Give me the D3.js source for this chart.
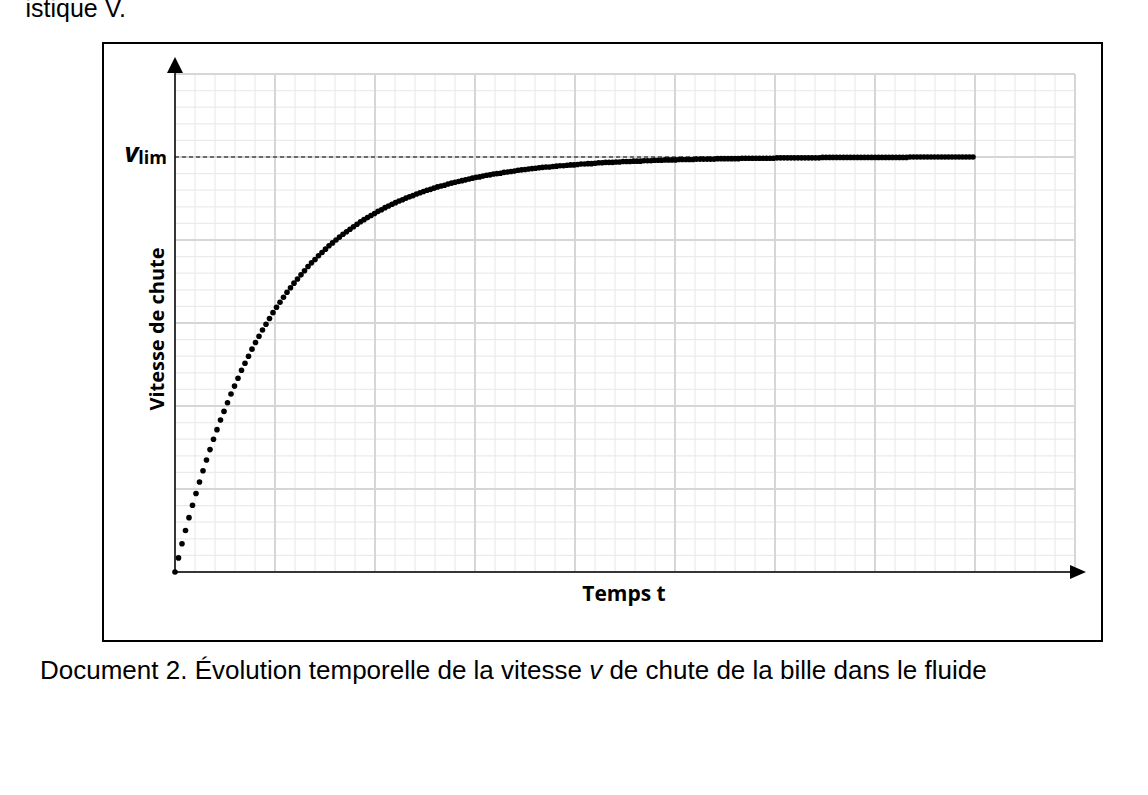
<!DOCTYPE html>
<html><head><meta charset="utf-8">
<script src="https://cdn.jsdelivr.net/npm/d3@7"></script>
<style>body{margin:0;background:#fff}</style></head>
<body><svg id="c" width="1148" height="795"></svg>
<script>
// fraction of v_lim, one sample per time step (step = 0.035 time units)
const vValues = [
0,.034,.068,.100,.131,.161,.189,.217,.244,.270,
.295,.320,.343,.366,.387,.408,.429,.448,.467,.486,
.503,.520,.537,.553,.568,.583,.597,.611,.625,.638,
.650,.662,.674,.685,.696,.706,.716,.726,.736,.745,
.753,.762,.770,.778,.786,.793,.800,.807,.814,.820,
.826,.832,.838,.844,.849,.854,.859,.864,.869,.873,
.878,.882,.886,.890,.894,.897,.901,.904,.907,.911,
.914,.917,.920,.922,.925,.928,.930,.932,.935,.937,
.939,.941,.943,.945,.947,.949,.951,.952,.954,.956,
.957,.959,.960,.961,.963,.964,.965,.966,.968,.969,
.970,.971,.972,.973,.974,.975,.976,.976,.977,.978,
.979,.979,.980,.981,.981,.982,.983,.983,.984,.984,
.985,.986,.986,.987,.987,.987,.988,.988,.989,.989,
.989,.990,.990,.990,.991,.991,.991,.992,.992,.992,
.993,.993,.993,.993,.994,.994,.994,.994,.994,.995,
.995,.995,.995,.995,.995,.996,.996,.996,.996,.996,
.996,.996,.997,.997,.997,.997,.997,.997,.997,.997,
.997,.997,.998,.998,.998,.998,.998,.998,.998,.998,
.998,.998,.998,.998,.998,.999,.999,.999,.999,.999,
.999,.999,.999,.999,.999,.999,.999,.999,.999,.999,
.999,.999,.999,.999,.999,.999,.999,.999,.999,.999,
1,1,1,1,1,1,1,1,1,1,
1,1,1,1,1,1,1,1,1];
const timeStep = 0.035;
const vLim = 1;
const xLabel = "Temps t", yLabel = "Vitesse de chute";
const caption = "Document 2. Évolution temporelle de la vitesse ";
const caption2 = " de chute de la bille dans le fluide";

const svg = d3.select("#c");
const x = d3.scaleLinear().domain([0, 9]).range([175, 1075]);
const y = d3.scaleLinear().domain([0, 1.2]).range([572, 74]);

svg.append("text").attr("x",126).attr("y",17).attr("text-anchor","end")
  .style("font-family","Liberation Sans, Arial").style("font-size","25px").text("istique V.");

svg.append("rect").attr("x",103).attr("y",43).attr("width",999).attr("height",598)
  .attr("fill","none").attr("stroke","#000").attr("stroke-width",2);

const g = svg.append("g");
const minorX = d3.range(0, 9.001, 0.2), minorY = d3.range(0, 1.2001, 0.04);
g.selectAll(".mx").data(minorX).enter().append("line")
  .attr("x1",d=>x(d)).attr("x2",d=>x(d)).attr("y1",y(0)).attr("y2",y(1.2))
  .attr("stroke","#ebebeb").attr("stroke-width",1.2);
g.selectAll(".my").data(minorY).enter().append("line")
  .attr("x1",x(0)).attr("x2",x(9)).attr("y1",d=>y(d)).attr("y2",d=>y(d))
  .attr("stroke","#ebebeb").attr("stroke-width",1.2);
g.selectAll(".Mx").data(d3.range(0,10)).enter().append("line")
  .attr("x1",d=>x(d)).attr("x2",d=>x(d)).attr("y1",y(0)).attr("y2",y(1.2))
  .attr("stroke","#d6d6d6").attr("stroke-width",2);
g.selectAll(".My").data(d3.range(0,1.201,0.2)).enter().append("line")
  .attr("x1",x(0)).attr("x2",x(9)).attr("y1",d=>y(d)).attr("y2",d=>y(d))
  .attr("stroke","#d6d6d6").attr("stroke-width",2);

const pts = vValues.map((v,i)=>({t:i*timeStep, v}));
svg.append("line").attr("x1",x(0)).attr("x2",x(pts[pts.length-1].t)).attr("y1",y(vLim)).attr("y2",y(vLim))
  .attr("stroke","#000").attr("stroke-width",1).attr("stroke-dasharray","4,3");

svg.append("line").attr("x1",x(0)).attr("x2",1072).attr("y1",y(0)).attr("y2",y(0)).attr("stroke","#000").attr("stroke-width",1.5);
svg.append("path").attr("d",`M1086,${y(0)} L1070,${y(0)-7} L1070,${y(0)+7} Z`).attr("fill","#000");
svg.append("line").attr("x1",x(0)).attr("x2",x(0)).attr("y1",y(0)).attr("y2",72).attr("stroke","#000").attr("stroke-width",1.5);
svg.append("path").attr("d",`M${x(0)},57 L${x(0)-8},73 L${x(0)+8},73 Z`).attr("fill","#000");

svg.selectAll(".pt").data(pts).enter().append("circle")
  .attr("cx",d=>x(d.t)).attr("cy",d=>y(d.v)).attr("r",2.8).attr("fill","#000");

const ff = "Open Sans, Noto Sans, sans-serif";
const vl = svg.append("text").attr("x",167).attr("y",y(vLim)+5).attr("text-anchor","end")
  .style("font-family",ff).style("font-weight","bold");
vl.append("tspan").style("font-size","27px").style("font-style","italic").text("v");
vl.append("tspan").style("font-size","18px").attr("dy",2).text("lim");

svg.append("text").attr("transform","translate(164,329) rotate(-90)").attr("text-anchor","middle")
  .style("font-family",ff).style("font-weight","bold").style("font-size","20px").text(yLabel);
svg.append("text").attr("x",624).attr("y",601).attr("text-anchor","middle")
  .style("font-family",ff).style("font-weight","bold").style("font-size","21px").text(xLabel);

const cap = svg.append("text").attr("x",40).attr("y",679)
  .style("font-family","Liberation Sans, Arial").style("font-size","26px");
cap.append("tspan").text(caption);
cap.append("tspan").style("font-style","italic").text("v");
cap.append("tspan").text(caption2);
</script></body></html>
